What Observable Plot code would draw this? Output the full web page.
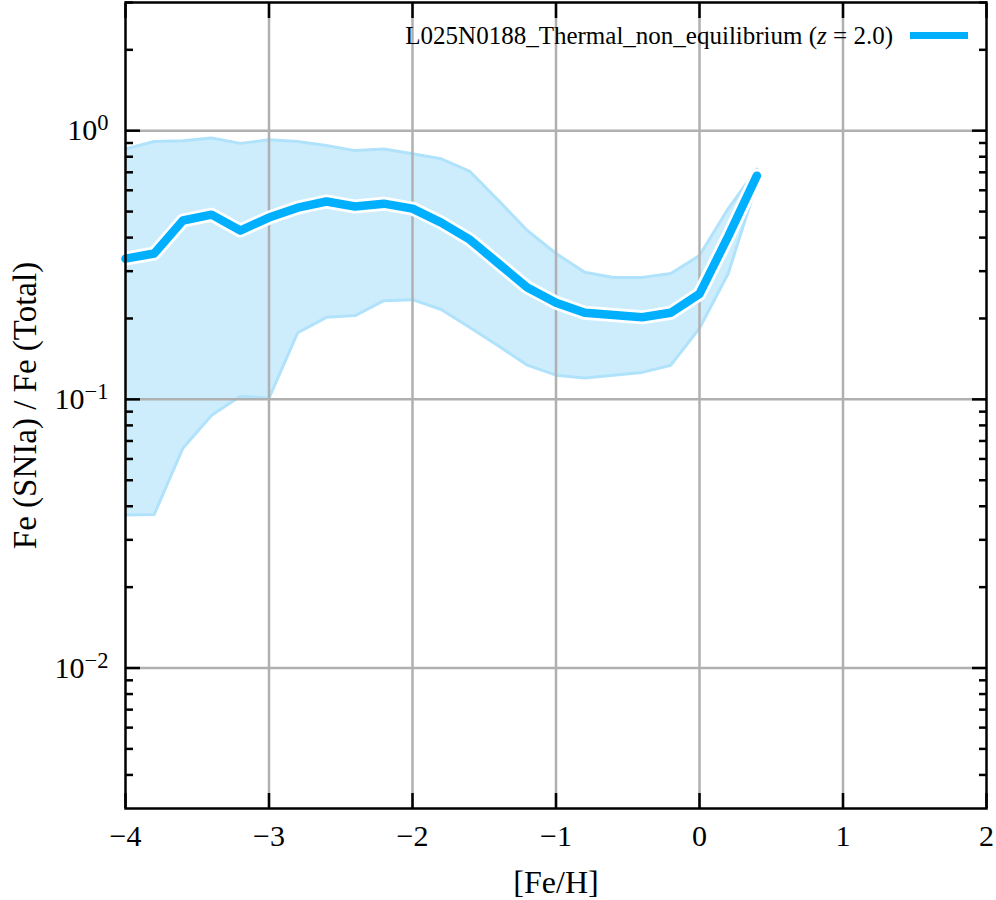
<!DOCTYPE html>
<html><head><meta charset="utf-8">
<script src="https://cdn.jsdelivr.net/npm/d3@7"></script>
<script src="https://cdn.jsdelivr.net/npm/@observablehq/plot@0.6"></script>
<style>
body{margin:0;background:#fff;}
#wrap{position:relative;width:996px;height:900px;font-family:"Liberation Serif","Times New Roman",serif;}
#wrap svg text, #wrap svg tspan{font-family:"Liberation Serif","Times New Roman",serif !important;}
#legend{position:absolute;top:23px;right:28px;display:flex;align-items:center;gap:17px;font-size:25px;color:#000;line-height:1;z-index:2;}
#legend .sw{display:inline-block;width:58px;height:7px;background:#00b0ff;}
</style></head><body>
<div id="wrap"><div id="legend"><span>L025N0188_Thermal_non_equilibrium (<i>z</i> = 2.0)</span><span class="sw"></span></div></div>
<script>
const feh    = [-4.0,-3.8,-3.6,-3.4,-3.2,-3.0,-2.8,-2.6,-2.4,-2.2,-2.0,-1.8,-1.6,-1.4,-1.2,-1.0,-0.8,-0.6,-0.4,-0.2,0.0,0.2,0.4];
const median = [0.334,0.349,0.463,0.487,0.425,0.475,0.517,0.545,0.522,0.535,0.513,0.455,0.393,0.320,0.261,0.229,0.210,0.206,0.202,0.210,0.247,0.404,0.68];
const upper  = [0.855,0.912,0.918,0.940,0.897,0.925,0.912,0.880,0.843,0.855,0.820,0.786,0.705,0.549,0.425,0.349,0.297,0.284,0.284,0.294,0.343,0.513,0.72];
const lower  = [0.0371,0.0373,0.0658,0.0873,0.1026,0.101,0.177,0.202,0.205,0.233,0.235,0.216,0.185,0.158,0.134,0.123,0.120,0.123,0.126,0.134,0.184,0.294,0.64];

const xTicks = [-4,-3,-2,-1,0,1,2];
const xGrid  = [-3,-2,-1,0,1];
const yMajor = [0.01,0.1,1];
const yExp   = ["\u22122","\u22121","0"];
const yMinor = [0.004,0.005,0.006,0.007,0.008,0.009,0.02,0.03,0.04,0.05,0.06,0.07,0.08,0.09,0.2,0.3,0.4,0.5,0.6,0.7,0.8,0.9,2,3];
const xLabel = "[Fe/H]";
const yLabel = "Fe (SNIa) / Fe (Total)";

const rows = feh.map((x,i)=>({x, med: median[i], lo: lower[i], hi: upper[i]}));
const fmtX = d => d < 0 ? "\u2212" + (-d) : String(d);
const fmtY = d => "10^" + yExp[yMajor.indexOf(d)];
const serif = "Liberation Serif, Times New Roman, serif";
const tk = {stroke:"black", strokeWidth:2.5, label:null};

const chart = Plot.plot({
  width: 996, height: 900,
  marginLeft: 125, marginRight: 10, marginTop: 2, marginBottom: 92,
  style: {fontFamily: serif, background: "transparent", color: "black"},
  x: {domain: [-4, 2], label: null},
  y: {type: "log", domain: [0.003, 3], label: null},
  marks: [
    Plot.areaY(rows, {x: "x", y1: "lo", y2: "hi", fill: "#cdedfc"}),
    Plot.lineY(rows, {x: "x", y: "lo", stroke: "#b0e3fb", strokeWidth: 3}),
    Plot.lineY(rows, {x: "x", y: "hi", stroke: "#b0e3fb", strokeWidth: 3}),
    Plot.ruleX(xGrid, {stroke: "#b0b0b0", strokeWidth: 2.5}),
    Plot.ruleY(yMajor, {stroke: "#b0b0b0", strokeWidth: 2.5}),
    Plot.lineY(rows, {x: "x", y: "med", stroke: "white", strokeWidth: 14, strokeLinejoin: "round"}),
    Plot.lineY(rows, {x: "x", y: "med", stroke: "#00b0ff", strokeWidth: 8.5, strokeLinejoin: "round"}),
    // axes: tick labels
    Plot.axisX(xTicks, {anchor: "bottom", tickSize: 0, tickPadding: 16, fontSize: 30, fontFamily: serif, tickFormat: fmtX, label: null}),
    Plot.axisY(yMajor, {anchor: "left", tickSize: 0, tickPadding: 17, fontSize: 30, fontFamily: serif, tickFormat: fmtY, label: null}),
    // inward ticks
    Plot.axisX(xTicks, {...tk, anchor: "bottom", tickSize: -15, tickFormat: () => ""}),
    Plot.axisX(xTicks, {...tk, anchor: "top", tickSize: -15, tickFormat: () => ""}),
    Plot.axisY(yMajor, {...tk, anchor: "left", tickSize: -15, tickFormat: () => ""}),
    Plot.axisY(yMinor, {...tk, anchor: "left", tickSize: -8, tickFormat: () => ""}),
    Plot.axisY(yMajor, {...tk, anchor: "right", tickSize: -15, tickFormat: () => ""}),
    Plot.axisY(yMinor, {...tk, anchor: "right", tickSize: -8, tickFormat: () => ""}),
    Plot.frame({stroke: "black", strokeWidth: 2.5}),
    // axis titles
    Plot.text([xLabel], {frameAnchor: "bottom", dy: 74, text: d => d, fontSize: 32, fontFamily: serif, lineAnchor: "middle", textAnchor: "middle"}),
    Plot.text([yLabel], {frameAnchor: "left", dx: -100, rotate: -90, text: d => d, fontSize: 33, fontFamily: serif, lineAnchor: "middle", textAnchor: "middle"})
  ]
});
chart.setAttribute("font-family", serif);

chart.querySelectorAll('g[aria-label="y-axis tick label"] text').forEach(t => {
  const s = t.textContent; const parts = s.split("^");
  if (parts.length < 2) return;
  t.textContent = parts[0];
  const ts = document.createElementNS("http://www.w3.org/2000/svg", "tspan");
  ts.setAttribute("dy", "-0.45em");
  ts.setAttribute("font-size", "0.75em");
  ts.textContent = parts[1];
  t.appendChild(ts);
});

document.getElementById("wrap").prepend(chart);
chart.style.position = "absolute"; chart.style.left = "0"; chart.style.top = "0";
</script>
</body></html>
